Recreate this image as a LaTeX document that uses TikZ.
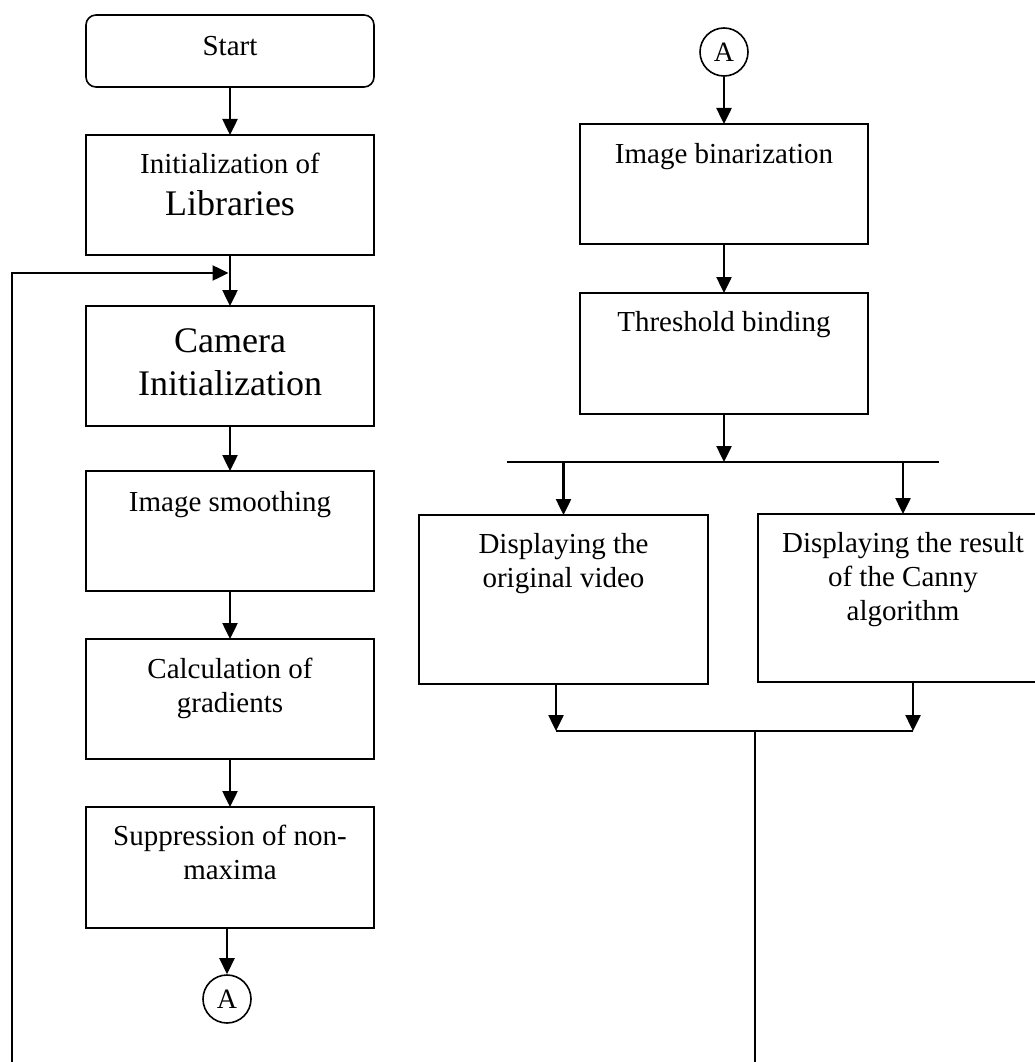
\documentclass[tikz,border=0pt]{standalone}
\usepackage{fontspec}
\setmainfont{Liberation Serif}
\usetikzlibrary{arrows.meta}

% Text block of a flowchart step: fixed height and width, first baseline set by a strut
\newcommand\flowtext[4]{\parbox[t][#1][t]{#2}{\centering\rule{0pt}{#3}\ignorespaces#4\par}}

\tikzset{
  stepbox/.style={draw, line width=1.6pt, inner sep=0pt, outer sep=0pt},
  startbox/.style={stepbox, rounded corners=10pt},
  connector/.style={draw, circle, line width=1.6pt, minimum size=48pt, inner sep=0pt,
                    font=\fontsize{28}{32}\selectfont},
  flow/.style={line width=2.5pt, -{Triangle[width=15pt,length=16pt]}},
  bus/.style={line width=1.7pt},
  loopline/.style={line width=2.5pt},
}

\begin{document}
\begin{tikzpicture}[x=1pt, y=-1pt, font=\fontsize{29}{34}\selectfont]
  \useasboundingbox (0,0) rectangle (1035,1062);

  % ---- left column: acquisition and edge detection ----
  \node[startbox] (start) at (230,51)
    {\flowtext{72pt}{288pt}{41pt}{Start}};
  \node[stepbox] (init) at (230,195)
    {\flowtext{120pt}{288pt}{38pt}{Initialization of\\\fontsize{36}{42}\selectfont Libraries}};
  \node[stepbox] (cam) at (230,366)
    {\flowtext{120pt}{288pt}{46pt}{\fontsize{36}{43}\selectfont Camera\\Initialization}};
  \node[stepbox] (smooth) at (230,531)
    {\flowtext{120pt}{288pt}{40pt}{Image smoothing}};
  \node[stepbox] (grad) at (230,699)
    {\flowtext{120pt}{288pt}{39pt}{Calculation of\\gradients}};
  \node[stepbox] (nms) at (230,867.5)
    {\flowtext{121pt}{288pt}{38pt}{Suppression of non-\\maxima}};
  \node[connector] (conA) at (227,999) {A};

  \draw[flow] (start) -- (init);
  \draw[flow] (init) -- (cam);
  \draw[flow] (cam) -- (smooth);
  \draw[flow] (smooth) -- (grad);
  \draw[flow] (grad) -- (nms);
  \draw[flow] (conA |- nms.south) -- (conA);

  % ---- right column: binarization and display ----
  \node[connector] (conB) at (724,52) {A};
  \node[stepbox] (bin) at (724,184)
    {\flowtext{120pt}{288pt}{39pt}{Image binarization}};
  \node[stepbox] (thr) at (724,353.5)
    {\flowtext{121pt}{288pt}{38pt}{Threshold binding}};
  \node[stepbox] (disp1) at (563.5,599.5)
    {\flowtext{169pt}{289pt}{38pt}{Displaying the\\original video}};
  \node[stepbox] (disp2) at (903,598)
    {\flowtext{168pt}{290pt}{38pt}{Displaying the result\\of the Canny\\algorithm}};

  \draw[flow] (conB) -- (bin);
  \draw[flow] (bin) -- (thr);

  % split bar feeding both displays
  \coordinate (splitL) at (507,462);
  \coordinate (splitR) at (939,462);
  \draw[bus] (splitL) -- (splitR);
  \draw[flow] (thr.south) -- (thr.south |- splitL);
  \draw[flow] (disp1.north |- splitL) -- (disp1.north);
  \draw[flow] (disp2.north |- splitL) -- (disp2.north);

  % merge bar collecting both displays
  \coordinate (mergeL) at (556,731);
  \coordinate (mergeR) at (913,731);
  \coordinate (mergeC) at (755,731);
  \coordinate (mergeEnd) at (755,1070);
  \draw[flow] (mergeL |- disp1.south) -- (mergeL);
  \draw[flow] (mergeR |- disp2.south) -- (mergeR);
  \draw[bus] (mergeL) -- (mergeR);
  \draw[bus] (mergeC) -- (mergeEnd);

  % loop back to the camera step
  \coordinate (loopBot) at (12,1070);
  \coordinate (loopIn) at (228.5,273);
  \draw[loopline, -{Triangle[width=15pt,length=16pt]}] (loopBot) |- (loopIn);
\end{tikzpicture}
\end{document}
